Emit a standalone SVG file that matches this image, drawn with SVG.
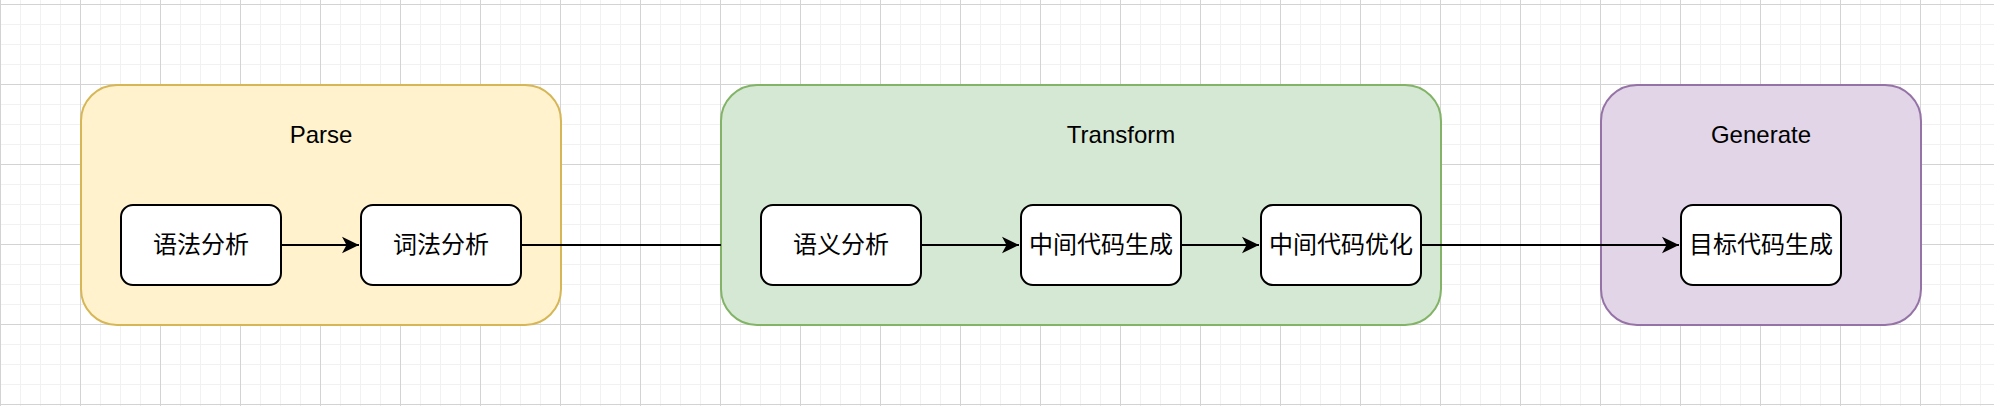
<svg xmlns="http://www.w3.org/2000/svg" width="1994" height="406" viewBox="0 0 1994 406">
  <defs>
    <pattern id="grid" x="0" y="4" width="80" height="80" patternUnits="userSpaceOnUse">
      <rect x="0" y="0" width="80" height="80" fill="#ffffff"/>
      <g fill="#f1f1f1">
        <rect x="20" y="0" width="1" height="80"/>
        <rect x="40" y="0" width="1" height="80"/>
        <rect x="60" y="0" width="1" height="80"/>
        <rect x="0" y="20" width="80" height="1"/>
        <rect x="0" y="40" width="80" height="1"/>
        <rect x="0" y="60" width="80" height="1"/>
      </g>
      <g fill="#d3d3d3">
        <rect x="0" y="0" width="1" height="80"/>
        <rect x="0" y="0" width="80" height="1"/>
      </g>
    </pattern>
    <marker id="arrow" markerUnits="userSpaceOnUse" markerWidth="20" markerHeight="20" viewBox="-18 -10 20 20" refX="0" refY="0" orient="auto">
      <path d="M0,0 L-17,-8.3 L-12.5,0 L-17,8.3 Z" fill="#000000" stroke="none"/>
    </marker>
    <style>
      .title { font-family: "Liberation Sans", Arial, sans-serif; font-size: 24px; fill: #000000; text-anchor: middle; }
      .label { font-family: "Liberation Sans", "Noto Sans CJK SC", sans-serif; font-size: 24px; fill: #000000; text-anchor: middle; }
      .node rect { fill: #ffffff; stroke: #000000; stroke-width: 2; }
      .edge { stroke: #000000; stroke-width: 2; fill: none; }
    </style>
  </defs>

  <rect x="0" y="0" width="1994" height="406" fill="url(#grid)"/>

  <g transform="translate(1,1)">
    <g id="parse">
      <rect x="80" y="84" width="480" height="240" rx="36" ry="36" fill="#fff2cc" stroke="#d6b656" stroke-width="2"/>
      <text class="title" x="320" y="142">Parse</text>
    </g>
    <g id="transform">
      <rect x="720" y="84" width="720" height="240" rx="36" ry="36" fill="#d5e8d4" stroke="#82b366" stroke-width="2"/>
      <text class="title" x="1120" y="142">Transform</text>
    </g>
    <g id="generate">
      <rect x="1600" y="84" width="320" height="240" rx="36" ry="36" fill="#e1d5e7" stroke="#9673a6" stroke-width="2"/>
      <text class="title" x="1760" y="142">Generate</text>
    </g>

    <g id="connectors">
      <line class="edge" x1="280" y1="244" x2="358" y2="244" marker-end="url(#arrow)"/>
      <line class="edge" x1="520" y1="244" x2="720" y2="244"/>
      <line class="edge" x1="920" y1="244" x2="1018" y2="244" marker-end="url(#arrow)"/>
      <line class="edge" x1="1180" y1="244" x2="1258" y2="244" marker-end="url(#arrow)"/>
      <line class="edge" x1="1420" y1="244" x2="1678" y2="244" marker-end="url(#arrow)"/>
    </g>

    <g id="n1" class="node">
      <rect x="120" y="204" width="160" height="80" rx="12" ry="12"/>
      <text class="label" x="200" y="252">语法分析</text>
    </g>
    <g id="n2" class="node">
      <rect x="360" y="204" width="160" height="80" rx="12" ry="12"/>
      <text class="label" x="440" y="252">词法分析</text>
    </g>
    <g id="n3" class="node">
      <rect x="760" y="204" width="160" height="80" rx="12" ry="12"/>
      <text class="label" x="840" y="252">语义分析</text>
    </g>
    <g id="n4" class="node">
      <rect x="1020" y="204" width="160" height="80" rx="12" ry="12"/>
      <text class="label" x="1100" y="252">中间代码生成</text>
    </g>
    <g id="n5" class="node">
      <rect x="1260" y="204" width="160" height="80" rx="12" ry="12"/>
      <text class="label" x="1340" y="252">中间代码优化</text>
    </g>
    <g id="n6" class="node">
      <rect x="1680" y="204" width="160" height="80" rx="12" ry="12"/>
      <text class="label" x="1760" y="252">目标代码生成</text>
    </g>
  </g>
</svg>
